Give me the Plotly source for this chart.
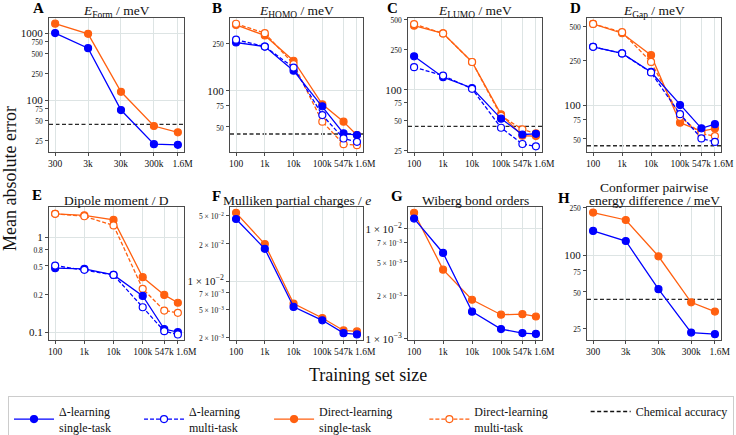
import math
import plotly.graph_objects as go

NBSP = "\u00a0"

# ---------------- data ----------------
X5 = [300, 3000, 30000, 300000, 1600000]
X5_LABELS = ["300", "3k", "30k", "300k", NBSP * 4 + "1.6M"]
X6 = [100, 1000, 10000, 100000, 547000, 1600000]
X6_LABELS = ["100", "1k", "10k", "100k", "547k", NBSP * 7 + "1.6M"]

CHEM_ACC_MEV = 43.4

# A: formation energy
form_delta_single = [1000, 596, 71, 22, 21.5]
form_direct_single = [1380, 975, 133, 41, 33]
# B: HOMO
homo_delta_single = [253, 234, 147, 74, 44, 42.5]
homo_delta_multi = [267, 234, 156, 62.5, 39.8, 37.3]
homo_direct_single = [355, 290, 178, 77, 55, 42.5]
homo_direct_multi = [363, 303, 167, 55, 35.7, 35]
# C: LUMO
lumo_delta_single = [214, 133, 104, 51.7, 36, 36.6]
lumo_delta_multi = [167, 138, 102, 42, 29, 27.5]
lumo_direct_single = [430, 361, 188, 57, 35, 34.7]
lumo_direct_multi = [447, 361, 188, 55, 40.5, 36.9]
# D: gap
gap_delta_single = [330, 288, 197, 100, 62, 67.5]
gap_delta_multi = [330, 288, 195, 83, 50.5, 47]
gap_direct_single = [528, 436, 278, 69.7, 58.7, 61.7]
gap_direct_multi = [528, 445, 242, 78.5, 55.5, 52.9]
# E: dipole
dip_delta_single = [0.472, 0.464, 0.401, 0.241, 0.108, 0.100]
dip_delta_multi = [0.503, 0.453, 0.401, 0.183, 0.1025, 0.0945]
dip_direct_single = [1.76, 1.70, 1.52, 0.379, 0.247, 0.204]
dip_direct_multi = [1.76, 1.66, 1.33, 0.286, 0.169, 0.160]
# F: Mulliken charges
mull_delta_single = [0.046, 0.0221, 0.0053, 0.00381, 0.00278, 0.00269]
mull_direct_single = [0.0535, 0.0248, 0.00575, 0.00403, 0.00297, 0.0029]
# G: Wiberg bond orders
wib_delta_single = [0.0124, 0.00604, 0.00177, 0.00123, 0.00113, 0.00111]
wib_direct_single = [0.0140, 0.00426, 0.00227, 0.00166, 0.00168, 0.0016]
# H: conformer energy difference
conf_delta_single = [160, 132, 52.7, 23.1, 22.4]
conf_direct_single = [227, 197, 98.7, 41.1, 34.4]

# y tick values / labels / major ticks (with grid lines)
A_YT = [25, 50, 75, 100, 250, 500, 750, 1000]
A_YL = ["25", "50", "75", "100", "250", "500", "750", "1000"]
A_YM = [100, 1000]
B_YT = [50, 75, 100, 250]
B_YL = ["50", "75", "100", "250"]
B_YM = [100]
C_YT = [25, 50, 75, 100, 250, 500]
C_YL = ["25", "50", "75", "100", "250", "500"]
C_YM = [100]
D_YT = [50, 75, 100, 250, 500]
D_YL = ["50", "75", "100", "250", "500"]
D_YM = [100]
E_YT = [0.1, 0.25, 0.5, 0.75, 1]
E_YL = ["0.1", "0.2", "0.5", "0.8", "1"]
E_YM = [0.1, 1]
F_YT = [0.0025, 0.005, 0.0075, 0.01, 0.025, 0.05]
F_YL = ["2 × 10<sup>−3</sup>", "5 × 10<sup>−3</sup>", "7 × 10<sup>−3</sup>",
        "1 × 10<sup>−2</sup>", "2 × 10<sup>−2</sup>", "5 × 10<sup>−2</sup>"]
F_YM = [0.01]
G_YT = [0.001, 0.0025, 0.005, 0.0075, 0.01]
G_YL = ["1 × 10<sup>−3</sup>", "2 × 10<sup>−3</sup>", "5 × 10<sup>−3</sup>",
        "7 × 10<sup>−3</sup>", "1 × 10<sup>−2</sup>"]
G_YM = [0.001, 0.01]
H_YT = [25, 50, 75, 100, 250]
H_YL = ["25", "50", "75", "100", "250"]
H_YM = [100]

PANELS = [
    dict(letter="A", title=["<i>E</i><sub>Form</sub> / meV"], x=X5, xl=X5_LABELS,
         s={"ds": form_delta_single, "rs": form_direct_single},
         yt=A_YT, yl=A_YL, ym=A_YM, yr=[1.225, 3.225], chem=True),
    dict(letter="B", title=["<i>E</i><sub>HOMO</sub> / meV"], x=X6, xl=X6_LABELS,
         s={"ds": homo_delta_single, "dm": homo_delta_multi,
            "rs": homo_direct_single, "rm": homo_direct_multi},
         yt=B_YT, yl=B_YL, ym=B_YM, yr=[1.487, 2.608], chem=True),
    dict(letter="C", title=["<i>E</i><sub>LUMO</sub> / meV"], x=X6, xl=X6_LABELS,
         s={"ds": lumo_delta_single, "dm": lumo_delta_multi,
            "rs": lumo_direct_single, "rm": lumo_direct_multi},
         yt=C_YT, yl=C_YL, ym=C_YM, yr=[1.383, 2.71], chem=True),
    dict(letter="D", title=["<i>E</i><sub>Gap</sub> / meV"], x=X6, xl=X6_LABELS,
         s={"ds": gap_delta_single, "dm": gap_delta_multi,
            "rs": gap_direct_single, "rm": gap_direct_multi},
         yt=D_YT, yl=D_YL, ym=D_YM, yr=[1.582, 2.775], chem=True),
    dict(letter="E", title=["Dipole moment / D"], x=X6, xl=X6_LABELS,
         s={"ds": dip_delta_single, "dm": dip_delta_multi,
            "rs": dip_direct_single, "rm": dip_direct_multi},
         yt=E_YT, yl=E_YL, ym=E_YM, yr=[-1.077, 0.323], chem=False),
    dict(letter="F", title=["Mulliken partial charges / <i>e</i>"], x=X6, xl=X6_LABELS,
         s={"ds": mull_delta_single, "rs": mull_direct_single},
         yt=F_YT, yl=F_YL, ym=F_YM, yr=[-2.624, -1.204], chem=False),
    dict(letter="G", title=["Wiberg bond orders"], x=X6, xl=X6_LABELS,
         s={"ds": wib_delta_single, "rs": wib_direct_single},
         yt=G_YT, yl=G_YL, ym=G_YM, yr=[-3.005, -1.797], chem=False),
    dict(letter="H", title=["Conformer pairwise", "energy difference / meV"], x=X5, xl=X5_LABELS,
         s={"ds": conf_delta_single, "rs": conf_direct_single},
         yt=H_YT, yl=H_YL, ym=H_YM, yr=[1.306, 2.406], chem=True),
]

SERIES = {
    "ds": dict(name="Δ-learning" + NBSP * 8 + "<br>single-task", color="#0000ff", dash="solid", open=False, rank=1),
    "dm": dict(name="Δ-learning" + NBSP * 8 + "<br>multi-task", color="#0000ff", dash="4px,2px", open=True, rank=2),
    "rs": dict(name="Direct-learning" + NBSP * 9 + "<br>single-task", color="#ff6010", dash="solid", open=False, rank=3),
    "rm": dict(name="Direct-learning" + NBSP * 11 + "<br>multi-task", color="#ff6010", dash="4px,2px", open=True, rank=4),
}

# ---------------- layout constants ----------------
W, H = 736, 435
FONT = "Liberation Serif"
COLS = [(49, 184), (230, 363), (408, 542), (587, 721)]
ROWS = [(18, 152), (206.5, 339.5)]
TITLE_Y = [11, 200]      # centre of the (last) title line, px from top
TITLE_LINE = 13          # px between title lines
GRID = "#dde4e4"
FRAME = "#4a4a4a"
SMALL = 7.5

fig = go.Figure()
layout = {}
shapes = []
annotations = []
shown = set()

for i, p in enumerate(PANELS):
    r, c = divmod(i, 4)
    n = "" if i == 0 else str(i + 1)
    xa, ya = "x" + n, "y" + n
    x0, x1 = COLS[c]
    yt, yb = ROWS[r]
    lo, hi = math.log10(min(p["x"])), math.log10(max(p["x"]))
    pad = 0.05 * (hi - lo)
    layout["xaxis" + n] = dict(
        domain=[x0 / W, x1 / W], anchor=ya, type="log", range=[lo - pad, hi + pad],
        tickmode="array", tickvals=p["x"], ticktext=p["xl"], tickangle=0,
        showgrid=True, gridcolor=GRID, gridwidth=1, zeroline=False,
        showline=True, mirror=True, linecolor=FRAME, linewidth=1,
        ticks="outside", ticklen=3, tickcolor=FRAME, tickfont=dict(size=9.5, color="#111"),
    )
    ticktext = [lbl if v in p["ym"] else f'<span style="font-size:{SMALL}px">{lbl}</span>'
                for v, lbl in zip(p["yt"], p["yl"])]
    layout["yaxis" + n] = dict(
        domain=[1 - yb / H, 1 - yt / H], anchor=xa, type="log", range=p["yr"],
        tickmode="array", tickvals=p["yt"], ticktext=ticktext,
        showgrid=False, zeroline=False,
        minor=dict(tickmode="array", tickvals=p["ym"], showgrid=True, gridcolor=GRID, ticks=""),
        showline=True, mirror=True, linecolor=FRAME, linewidth=1,
        ticks="outside", ticklen=3, tickcolor=FRAME, tickfont=dict(size=11, color="#111"),
    )
    if p["chem"]:
        shapes.append(dict(type="line", xref=xa + " domain", x0=0, x1=1, yref=ya,
                           y0=CHEM_ACC_MEV, y1=CHEM_ACC_MEV,
                           line=dict(color="#2a2a2a", width=1.3, dash="4px,2.5px"), layer="below"))
    for key in ["rs", "rm", "ds", "dm"]:
        if key not in p["s"]:
            continue
        st = SERIES[key]
        marker = dict(size=7, color="white" if st["open"] else st["color"],
                      line=dict(color=st["color"], width=1.2))
        fig.add_trace(go.Scatter(
            x=p["x"], y=p["s"][key], xaxis=xa, yaxis=ya, mode="lines+markers",
            line=dict(color=st["color"], width=1.3, dash=st["dash"]), marker=marker,
            name=st["name"], legendgroup=key, legendrank=st["rank"],
            showlegend=key not in shown, hoverinfo="skip"))
        shown.add(key)
    nl = len(p["title"])
    for k, line in enumerate(p["title"]):
        ty = TITLE_Y[r] - (nl - 1 - k) * TITLE_LINE
        annotations.append(dict(text=line, xref=xa + " domain", x=0.5, yref="paper",
                                y=1 - ty / H, yanchor="middle", xanchor="center", showarrow=False,
                                font=dict(size=13.5, color="#111"), borderpad=0))

fig.add_trace(go.Scatter(x=[None], y=[None], mode="lines", name="Chemical accuracy",
                         line=dict(color="#111", width=1.5, dash="4px,2.5px"),
                         legendrank=5, showlegend=True, hoverinfo="skip"))

LETTERS = [(38, 8), (217, 8), (393, 8), (575, 8), (37, 195), (216, 196), (397, 196), (564, 198)]
for p, (lx, ly) in zip(PANELS, LETTERS):
    annotations.append(dict(text="<b>" + p["letter"] + "</b>", xref="paper", yref="paper",
                            x=lx / W, y=1 - ly / H, xanchor="center", yanchor="middle",
                            showarrow=False, font=dict(size=15, color="#000")))

annotations.append(dict(text="Mean absolute error", xref="paper", yref="paper", x=10 / W, y=1 - 179 / H,
                        textangle=-90, showarrow=False, xanchor="center", yanchor="middle",
                        font=dict(size=18, color="#111")))
annotations.append(dict(text="Training set size", xref="paper", yref="paper", x=368 / W, y=1 - 375 / H,
                        showarrow=False, xanchor="center", yanchor="middle",
                        font=dict(size=18, color="#111")))

fig.update_layout(
    **layout,
    width=W, height=H, margin=dict(l=0, r=0, t=0, b=0, autoexpand=False),
    paper_bgcolor="white", plot_bgcolor="white",
    font=dict(family=FONT, color="#111"),
    shapes=shapes, annotations=annotations,
    showlegend=True,
    legend=dict(orientation="h", x=8 / W, xanchor="left", y=1 - 396 / H, yanchor="top",
                bordercolor="#cccccc", borderwidth=1, bgcolor="white",
                font=dict(size=12, color="#111"), itemwidth=40, traceorder="normal"),
)

fig.write_html("out.html", config={"displayModeBar": False, "staticPlot": True},
               post_script="document.body.style.margin='0px';document.body.style.overflow='hidden';")
